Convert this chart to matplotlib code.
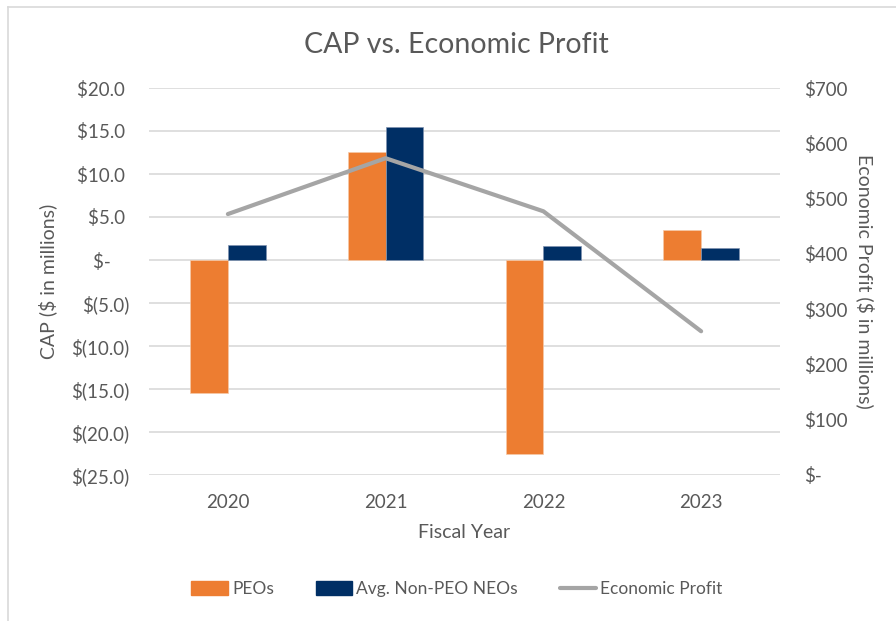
"""Recreate the CAP vs. Economic Profit combo chart."""

import matplotlib

matplotlib.use("Agg")

import matplotlib.pyplot as plt
import numpy as np
from matplotlib.lines import Line2D
from matplotlib.patches import Patch

years = ["2020", "2021", "2022", "2023"]
peo_cap = [-15.5, 12.6, -22.6, 3.5]
non_peo_cap = [1.75, 15.5, 1.65, 1.4]
economic_profit = [472, 573, 477, 260]

left_ticks = [20, 15, 10, 5, 0, -5, -10, -15, -20, -25]
left_tick_labels = ["$20.0 ", "$15.0 ", "$10.0 ", "$5.0 ", "$-    ",
                    "$(5.0)", "$(10.0)", "$(15.0)", "$(20.0)", "$(25.0)"]
right_ticks = [0, 100, 200, 300, 400, 500, 600, 700]
right_tick_labels = ["$-", "$100", "$200", "$300", "$400", "$500", "$600", "$700"]

ORANGE = "#ED7D31"
NAVY = "#002F65"
GRAY = "#A5A5A5"
TEXT = "#595959"
GRID = "#D9D9D9"

plt.rcParams["font.family"] = ["Lato", "DejaVu Sans"]

fig = plt.figure(figsize=(8.96, 6.21), dpi=100)
W, H = 896, 621

# light chart border (left and top visible)
fig.add_artist(Line2D([8 / W, 8 / W], [0, 1 - 7 / H], color=GRID, lw=1.2))
fig.add_artist(Line2D([8 / W, 1], [1 - 7 / H, 1 - 7 / H], color=GRID, lw=1.2))

ax = fig.add_axes([149 / W, 1 - 475 / H, (780 - 149) / W, (475 - 88) / H])
x = np.arange(len(years))
width = 0.24

ax.bar(x - width / 2, peo_cap, width, color=ORANGE, edgecolor="#F6C9A8", linewidth=0.5, zorder=2)
ax.bar(x + width / 2, non_peo_cap, width, color=NAVY, edgecolor="#7F93B0", linewidth=0.5, zorder=2)

ax.set_xlim(-0.5, len(years) - 0.5)
ax.set_ylim(-25, 20)
ax.set_yticks(left_ticks)
ax.set_yticklabels(left_tick_labels)
ax.set_xticks(x)
ax.set_xticklabels(years)
ax.grid(axis="y", color=GRID, linewidth=1.2, zorder=0)
ax.set_axisbelow(True)
for spine in ax.spines.values():
    spine.set_visible(False)
ax.tick_params(axis="both", length=0, labelsize=13.5, colors=TEXT)
ax.tick_params(axis="y", pad=14)
ax.tick_params(axis="x", pad=14)
ax.set_ylabel("CAP ($ in millions)", fontsize=14, color=TEXT, labelpad=10)
ax.set_xlabel("Fiscal Year", fontsize=14, color=TEXT, labelpad=9)

ax2 = ax.twinx()
ax2.plot(x, economic_profit, color=GRAY, linewidth=3, solid_capstyle="round", zorder=3)
ax2.set_ylim(0, 700)
ax2.set_yticks(right_ticks)
ax2.set_yticklabels(right_tick_labels)
for spine in ax2.spines.values():
    spine.set_visible(False)
ax2.tick_params(axis="y", length=0, labelsize=13.5, colors=TEXT, pad=17)
ax2.set_ylabel("Economic Profit ($ in millions)", fontsize=14, color=TEXT,
               rotation=-90, labelpad=20)

fig.text(456 / W, 1 - 45 / H, "CAP vs. Economic Profit", ha="center", va="center",
         fontsize=20.5, color=TEXT)

handles = [
    Patch(facecolor=ORANGE, edgecolor=ORANGE),
    Patch(facecolor=NAVY, edgecolor=NAVY),
    Line2D([0], [0], color=GRAY, linewidth=3, solid_capstyle="round"),
]
fig.legend(handles, ["PEOs", "Avg. Non-PEO NEOs", "Economic Profit"],
           loc="center", bbox_to_anchor=(457 / W, 1 - 589 / H), ncol=3, frameon=False,
           fontsize=12.5, labelcolor=TEXT, handlelength=2.1, handleheight=0.8,
           handletextpad=0.25, columnspacing=2.4)

fig.savefig("out.png", dpi=100)
